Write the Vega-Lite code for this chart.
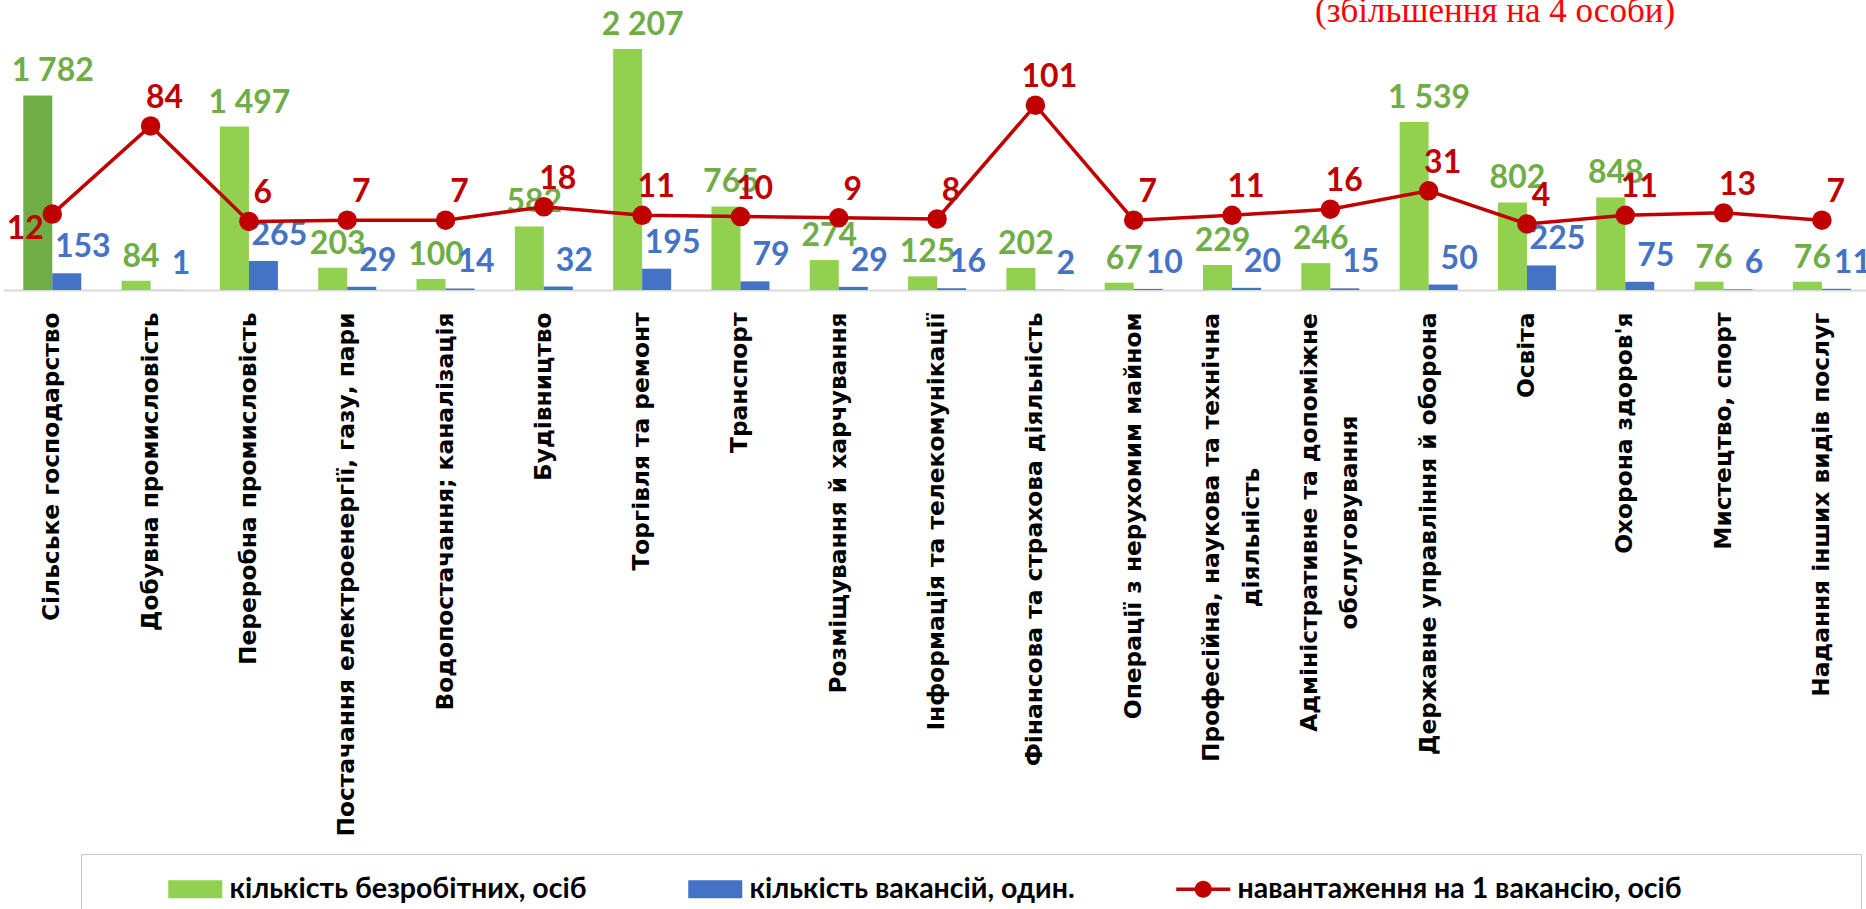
{
  "$schema": "https://vega.github.io/schema/vega-lite/v6.json",
  "width": 1863,
  "height": 273,
  "autosize": {"type": "none"},
  "padding": {"left": 3, "top": 17, "right": 0, "bottom": 619},
  "background": "white",
  "config": {
    "view": {"stroke": null},
    "locale": {"number": {"decimal": ",", "thousands": " ", "grouping": [3], "currency": ["", ""]}}
  },
  "title": {
    "text": "(збільшення на 4 особи)",
    "font": "Liberation Serif",
    "fontSize": 35,
    "fontWeight": "normal",
    "color": "#FF0000",
    "anchor": "start",
    "frame": "group",
    "orient": "top",
    "offset": 0,
    "dx": 1312,
    "dy": 48,
    "baseline": "alphabetic"
  },
  "data": {
    "values": [
      {"sector": "Сільське господарство", "unemployed": 1782, "vacancies": 153, "load": 12},
      {"sector": "Добувна промисловість", "unemployed": 84, "vacancies": 1, "load": 84},
      {"sector": "Переробна промисловість", "unemployed": 1497, "vacancies": 265, "load": 6},
      {"sector": "Постачання електроенергії, газу, пари", "unemployed": 203, "vacancies": 29, "load": 7},
      {"sector": "Водопостачання; каналізація", "unemployed": 100, "vacancies": 14, "load": 7},
      {"sector": "Будівництво", "unemployed": 582, "vacancies": 32, "load": 18},
      {"sector": "Торгівля та ремонт", "unemployed": 2207, "vacancies": 195, "load": 11},
      {"sector": "Транспорт", "unemployed": 765, "vacancies": 79, "load": 10},
      {"sector": "Розміщування й харчування", "unemployed": 274, "vacancies": 29, "load": 9},
      {"sector": "Інформація та телекомунікації", "unemployed": 125, "vacancies": 16, "load": 8},
      {"sector": "Фінансова та страхова діяльність", "unemployed": 202, "vacancies": 2, "load": 101},
      {"sector": "Операції з нерухомим майном", "unemployed": 67, "vacancies": 10, "load": 7},
      {"sector": "Професійна, наукова та технічна діяльність", "unemployed": 229, "vacancies": 20, "load": 11},
      {"sector": "Адміністративне та допоміжне обслуговування", "unemployed": 246, "vacancies": 15, "load": 16},
      {"sector": "Державне управління й оборона", "unemployed": 1539, "vacancies": 50, "load": 31},
      {"sector": "Освіта", "unemployed": 802, "vacancies": 225, "load": 4},
      {"sector": "Охорона здоров'я", "unemployed": 848, "vacancies": 75, "load": 11},
      {"sector": "Мистецтво, спорт", "unemployed": 76, "vacancies": 6, "load": 13},
      {"sector": "Надання інших видів послуг", "unemployed": 76, "vacancies": 11, "load": 7}
    ]
  },
  "encoding": {
    "x": {
      "field": "sector",
      "type": "nominal",
      "sort": null,
      "scale": {"paddingInner": 0.41, "paddingOuter": 0.18, "align": 0.573},
      "axis": {
        "title": null,
        "labelAngle": -90,
        "labelFont": "DejaVu Sans",
        "labelFontWeight": "bold",
        "labelFontSize": 23.3,
        "labelColor": "#000000",
        "labelLimit": 1000,
        "labelOverlap": false,
        "labelLineHeight": 40,
        "labelAlign": {
          "condition": {"test": "datum.value === 'Професійна, наукова та технічна діяльність' || datum.value === 'Адміністративне та допоміжне обслуговування'", "value": "center"},
          "value": "right"
        },
        "labelPadding": {
          "condition": [
            {"test": "datum.value === 'Професійна, наукова та технічна діяльність'", "value": 247},
            {"test": "datum.value === 'Адміністративне та допоміжне обслуговування'", "value": 232}
          ],
          "value": 22
        },
        "labelOffset": {
          "condition": {"test": "datum.value === 'Професійна, наукова та технічна діяльність' || datum.value === 'Адміністративне та допоміжне обслуговування'", "value": -20},
          "value": 0
        },
        "ticks": false,
        "grid": false,
        "domainColor": "#D9D9D9",
        "domainWidth": 2,
        "labelExpr": "datum.value === 'Професійна, наукова та технічна діяльність' ? ['Професійна, наукова та технічна', 'діяльність'] : datum.value === 'Адміністративне та допоміжне обслуговування' ? ['Адміністративне та допоміжне', 'обслуговування'] : datum.label"
      }
    }
  },
  "layer": [
    {
      "transform": [{"fold": ["unemployed", "vacancies"], "as": ["series", "value"]}],
      "encoding": {
        "y": {"field": "value", "type": "quantitative", "scale": {"domain": [0, 2500]}, "axis": null},
        "xOffset": {"field": "series", "type": "nominal", "scale": {"domain": ["unemployed", "vacancies"], "paddingInner": 0, "paddingOuter": 0}}
      },
      "layer": [
        {
          "mark": {"type": "bar"},
          "encoding": {
            "color": {
              "condition": {"test": "datum.sector === 'Сільське господарство' && datum.series === 'unemployed'", "value": "#70AD47"},
              "field": "series",
              "type": "nominal",
              "scale": {"domain": ["unemployed", "vacancies", "load"], "range": ["#92D050", "#4472C4", "#C00000"]},
              "legend": {
                "orient": "none",
                "legendX": 78,
                "legendY": 837,
                "direction": "horizontal",
                "columns": 3,
                "gridAlign": "none",
                "columnPadding": 35,
                "title": "\u00a0",
                "titleOrient": "right",
                "titleFontSize": 8,
                "titlePadding": 158,
                "padding": 21,
                "strokeColor": "#C8C8C8",
                "labelExpr": "datum.value === 'unemployed' ? 'кількість безробітних, осіб' : datum.value === 'vacancies' ? 'кількість вакансій, один.' : 'навантаження на 1 вакансію, осіб'",
                "labelFont": "Lato",
                "labelFontSize": 28.5,
                "labelFontWeight": "bold",
                "labelColor": "#000000",
                "labelLimit": 1000,
                "symbolSize": 400,
                "symbolOffset": 79,
                "symbolStrokeWidth": 0,
                "labelOffset": 20,
                "encode": {
                  "symbols": {
                    "update": {
                      "shape": {"signal": "datum.value === 'load' ? 'M-2.7,-0.17H-0.8V0.17H-2.7Z M0.8,-0.17H2.7V0.17H0.8Z M0.85,0 A0.85,0.85 0 1,1 -0.85,0 A0.85,0.85 0 1,1 0.85,0Z' : 'M-2.7,-0.9H2.7V0.9H-2.7Z'"},
                      "fill": {"scale": "color", "field": "value"},
                      "stroke": {"value": "transparent"},
                      "strokeWidth": {"value": 0},
                      "opacity": {"value": 1}
                    }
                  }
                }
              }
            }
          }
        },
        {
          "transform": [{"filter": "datum.series === 'unemployed' && datum.value < 1000"}],
          "mark": {"type": "text", "font": "Lato", "fontSize": 32, "fontWeight": "bold", "color": "#70AD47", "baseline": "alphabetic", "align": "center", "dx": 5, "dy": -14},
          "encoding": {"text": {"field": "value", "type": "quantitative", "format": ",d"}}
        },
        {
          "transform": [{"filter": "datum.series === 'unemployed' && datum.value >= 1000"}],
          "mark": {"type": "text", "font": "Lato", "fontSize": 32, "fontWeight": "bold", "color": "#70AD47", "baseline": "alphabetic", "align": "center", "dx": 15, "dy": -14},
          "encoding": {"text": {"field": "value", "type": "quantitative", "format": ",d"}}
        },
        {
          "transform": [{"filter": "datum.series === 'vacancies'"}],
          "mark": {"type": "text", "font": "Lato", "fontSize": 32, "fontWeight": "bold", "color": "#4472C4", "baseline": "alphabetic", "align": "center", "dx": 16, "dy": -16},
          "encoding": {"text": {"field": "value", "type": "quantitative", "format": ",d"}}
        }
      ]
    },
    {
      "encoding": {
        "y": {"field": "load", "type": "quantitative", "scale": {"domain": [-50, 173]}, "axis": null}
      },
      "layer": [
        {
          "mark": {"type": "line", "strokeWidth": 3.5},
          "encoding": {"color": {"datum": "load"}}
        },
        {
          "mark": {"type": "point", "filled": true, "size": 380, "color": "#C00000", "opacity": 1}
        },
        {
          "transform": [{"filter": "datum.sector !== 'Сільське господарство'"}],
          "mark": {"type": "text", "font": "Lato", "fontSize": 32, "fontWeight": "bold", "color": "#C00000", "baseline": "alphabetic", "align": "center", "dx": 14, "dy": -18},
          "encoding": {"text": {"field": "load", "type": "quantitative"}}
        },
        {
          "transform": [{"filter": "datum.sector === 'Сільське господарство'"}],
          "mark": {"type": "text", "font": "Lato", "fontSize": 32, "fontWeight": "bold", "color": "#C00000", "baseline": "alphabetic", "align": "center", "dx": -27, "dy": 25},
          "encoding": {"text": {"field": "load", "type": "quantitative"}}
        }
      ]
    }
  ],
  "resolve": {"scale": {"y": "independent"}}
}
